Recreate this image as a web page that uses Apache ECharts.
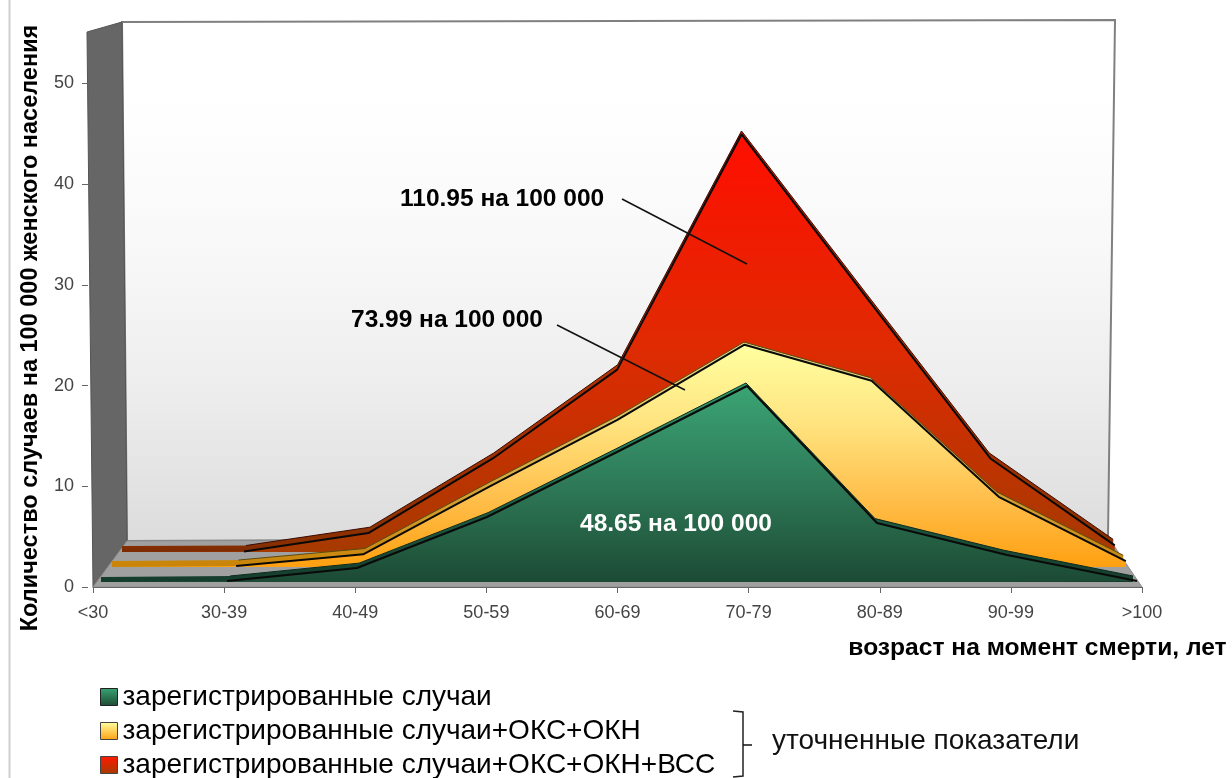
<!DOCTYPE html>
<html><head><meta charset="utf-8">
<style>html,body{margin:0;padding:0;background:#fff}#c{width:1232px;height:778px}</style>
<script src="https://cdn.jsdelivr.net/npm/echarts@6/dist/echarts.min.js"></script>
</head><body><div id="c"></div>
<script>
const categories = ['<30','30-39','40-49','50-59','60-69','70-79','80-89','90-99','>100'];
const registered = [0,0.1,1.4,6.5,13.0,19.6,5.9,2.7,0.1];
const registeredOksOkn = [0,0.1,1.3,8.3,15.1,22.8,19.1,7.2,0.6];
const registeredOksOknVss = [0,0.05,2.0,9.9,19.3,44.2,27.0,9.9,0.7];
const yTicksMax = 55;
const nameGreen = 'зарегистрированные случаи';
const nameYellow = 'зарегистрированные случаи+ОКС+ОКН';
const nameRed = 'зарегистрированные случаи+ОКС+ОКН+ВСС';
const FONT = '"Liberation Sans", Arial, sans-serif';

const grad = (stops) => ({type:'linear',x:0,y:0,x2:0,y2:1,colorStops:stops.map((c)=>({offset:c[0],color:c[1]}))});

// each layer: back and front planes [left x of first category, category spacing, baseline y, px per unit]
const layers = [
 {name:nameRed, values:registeredOksOknVss,
  back:[122,123.9,546,9.39], front:[119.6,124.4,552,9.45],
  backFill:grad([[0,'#e01000'],[0.55,'#b83000'],[0.98,'#8a3000'],[1,'#7a2a00']]),
  fill:grad([[0,'#ff0e00'],[0.5,'#e02a02'],[1,'#a63a00']]), backLine:'#3a0a00'},
 {name:nameYellow, values:registeredOksOkn,
  back:[112,126.4,561,9.6], front:[109,127.1,567,9.75],
  backFill:grad([[0,'#e4dc90'],[0.6,'#d8a840'],[1,'#c88408']]),
  fill:grad([[0,'#ffffa0'],[0.35,'#ffe480'],[0.7,'#ffbe4a'],[1,'#ffa010']]), backLine:'#5a4a10'},
 {name:nameGreen, values:registered,
  back:[101,129,577,9.9], front:[97,130,582,10],
  backFill:grad([[0,'#2f9a6c'],[1,'#153c2c']]),
  fill:grad([[0,'#3aa474'],[0.5,'#2e7a58'],[1,'#1c4a34']]), backLine:'#0c2a1e'}
];

const grids = [{left:93,width:1049,top:33,height:554}];
const xAxes = [{gridIndex:0,type:'category',boundaryGap:false,data:categories,
  name:'возраст на момент смерти, лет',nameLocation:'middle',nameGap:49,
  nameTextStyle:{fontFamily:FONT,fontWeight:'bold',fontSize:24.6,color:'#000',padding:[0,0,0,840]},
  axisLine:{lineStyle:{color:'#666',width:1}},axisTick:{alignWithLabel:true,length:6,lineStyle:{color:'#666'}},
  axisLabel:{fontFamily:FONT,fontSize:18,color:'#444',margin:17,interval:0,showMinLabel:true,showMaxLabel:true}}];
const yAxes = [{gridIndex:0,type:'value',min:0,max:yTicksMax,interval:10,offset:5,
  name:'Количество случаев на 100 000 женского населения',nameLocation:'middle',nameGap:45,nameRotate:90,
  nameTextStyle:{fontFamily:FONT,fontWeight:'bold',fontSize:23.5,color:'#000',padding:[0,36,0,0]},
  axisLine:{show:false},axisTick:{show:true,length:6,lineStyle:{color:'#666'}},splitLine:{show:false},
  axisLabel:{fontFamily:FONT,fontSize:18,color:'#444',margin:14,showMaxLabel:false}}];
const series = [];
let z = 3;
function addPlane(p,lowerBaseline){
  const idx = grids.length;
  const span = p[1]*(categories.length-1);
  const drop = lowerBaseline - p[2];
  grids.push({left:p[0],width:span,top:p[2]-yTicksMax*p[3],height:yTicksMax*p[3]+drop});
  xAxes.push({gridIndex:idx,type:'category',boundaryGap:false,data:categories,show:false});
  yAxes.push({gridIndex:idx,type:'value',min:-drop/p[3],max:yTicksMax,show:false});
  return idx;
}
const base = {type:'line',symbol:'none',animation:false,silent:true};
layers.forEach(l=>{
  const edge = l.values.map((v,i)=>i===0?null:v);
  const b = addPlane(l.back,l.front[2]), f = addPlane(l.front,l.front[2]);
  series.push({...base,name:l.name+' (глубина)',xAxisIndex:b,yAxisIndex:b,z:z++,data:l.values,
    lineStyle:{width:0},itemStyle:{color:'#000'},areaStyle:{color:l.backFill,opacity:1,origin:'start'}});
  series.push({...base,name:l.name+' (ребро)',xAxisIndex:b,yAxisIndex:b,z:z++,data:edge,
    lineStyle:{width:1,color:l.backLine},itemStyle:{color:l.backLine}});
  series.push({...base,name:l.name,xAxisIndex:f,yAxisIndex:f,z:z++,data:l.values,
    lineStyle:{width:0},itemStyle:{color:l.fill},areaStyle:{color:l.fill,opacity:1}});
  series.push({...base,name:l.name+' (контур)',xAxisIndex:f,yAxisIndex:f,z:z++,data:edge,
    lineStyle:{width:2,color:'#0a0a0a'},itemStyle:{color:'#000'}});
});

const txt = (s,x,y,size,bold,color) => ({type:'text',z:60,style:{text:s,x:x,y:y,fontFamily:FONT,fontSize:size,fontWeight:bold?'bold':'normal',fill:color||'#000',textVerticalAlign:'middle',textBaseline:'middle'}});
const seg = (x1,y1,x2,y2) => ({type:'line',z:60,shape:{x1,y1,x2,y2},style:{stroke:'#111',lineWidth:1.5}});

const chart = echarts.init(document.getElementById('c'),null,{renderer:'canvas'});
chart.setOption({
  animation:false,backgroundColor:'#fff',
  grid:grids,xAxis:xAxes,yAxis:yAxes,series:series,
  legend:{left:100,top:683,height:130,orient:'vertical',itemGap:6,itemWidth:17,itemHeight:17,icon:'rect',selectedMode:false,padding:0,
    textStyle:{fontFamily:FONT,fontSize:28,color:'#000',lineHeight:27},
    data:[
      {name:nameGreen,itemStyle:{color:grad([[0,'#3aa474'],[1,'#1c4a34']]),borderColor:'#222',borderWidth:1}},
      {name:nameYellow,itemStyle:{color:grad([[0,'#ffffa0'],[1,'#ffa010']]),borderColor:'#444',borderWidth:1}},
      {name:nameRed,itemStyle:{color:grad([[0,'#ff1a00'],[1,'#a63a00']]),borderColor:'#444',borderWidth:1}}
    ]},
  graphic:[
    {type:'line',z:0,shape:{x1:9.5,y1:0,x2:9.5,y2:778},style:{stroke:'#cfcfcf',lineWidth:2}},
    {type:'polygon',z:0,shape:{points:[[122,22],[1115,20],[1108,537],[127,541]]},
      style:{fill:{type:'linear',x:0,y:0,x2:0,y2:1,colorStops:[{offset:0.15,color:'#ffffff'},{offset:0.45,color:'#f8f8f8'},{offset:0.73,color:'#ececec'},{offset:0.92,color:'#e1e1e1'},{offset:1,color:'#dcdcdc'}]},stroke:'#808080',lineWidth:2}},
    {type:'polygon',z:0,shape:{points:[[87,32],[122,22],[127,541],[93,587]]},style:{fill:'#666666',stroke:'#555',lineWidth:1}},
    {type:'polygon',z:0,shape:{points:[[93,587],[1142,587],[1108,537],[127,541]]},style:{fill:'#a0a0a0',stroke:'#8c8c8c',lineWidth:1}},
    txt('110.95 на 100 000',400,199,24.5,true),
    txt('73.99 на 100 000',351,320,24.5,true),
    txt('48.65 на 100 000',580,524,24.5,true,'#ffffff'),
    seg(622,199,747,264),
    seg(557,325,685,390),
    {type:'polyline',z:60,shape:{points:[[733,711],[743,712],[743,776],[733,777]]},style:{fill:'none',stroke:'#222',lineWidth:1.5}},
    seg(743,745,752,745),
    txt('уточненные показатели',772,741,28,false,'#111')
  ]
});
</script></body></html>
